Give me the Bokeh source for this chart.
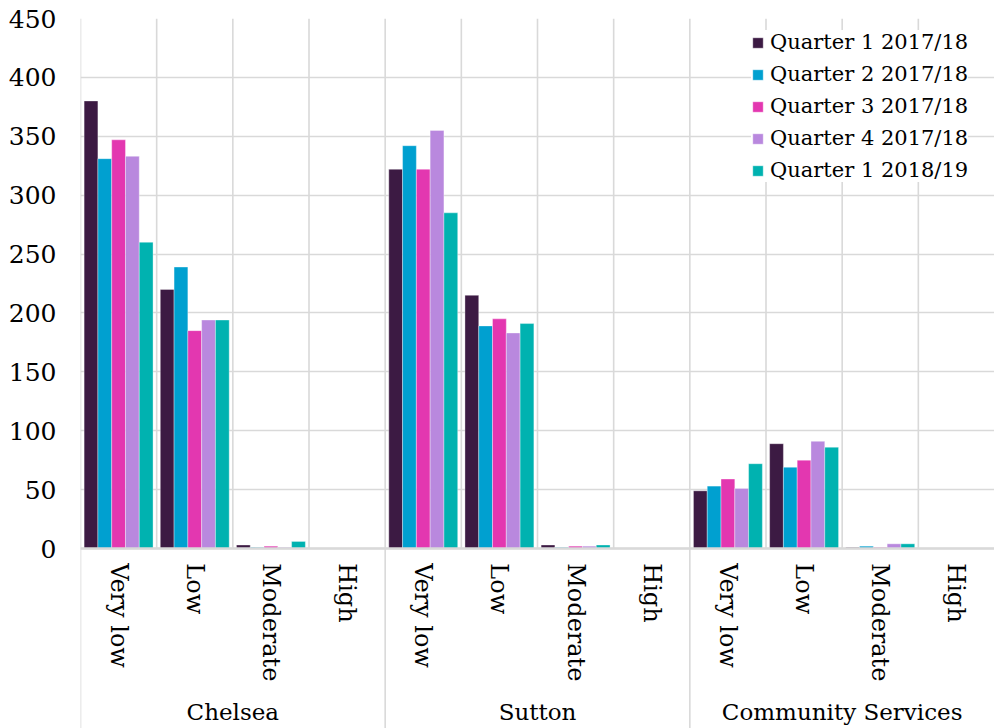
import math
from bokeh.plotting import figure
from bokeh.models import FactorRange, Range1d, FixedTicker, ColumnDataSource, Span
from bokeh.transform import dodge
from bokeh.core.properties import value
from bokeh.embed import file_html
from bokeh.resources import INLINE

# ---------------- data ----------------
groups = ["Chelsea", "Sutton", "Community Services"]
levels = ["Very low", "Low", "Moderate", "High"]
series = ["Quarter 1 2017/18", "Quarter 2 2017/18", "Quarter 3 2017/18",
          "Quarter 4 2017/18", "Quarter 1 2018/19"]
# values in order: Chelsea(VL, L, M, H), Sutton(...), Community Services(...)
q1_1718 = [380, 220, 3, 0, 322, 215, 3, 0, 49, 89, 1, 0]
q2_1718 = [331, 239, 1, 0, 342, 189, 1, 0, 53, 69, 2, 0]
q3_1718 = [347, 185, 2, 0, 322, 195, 2, 0, 59, 75, 1, 0]
q4_1718 = [333, 194, 1, 0, 355, 183, 2, 0, 51, 91, 4, 0]
q1_1819 = [260, 194, 6, 0, 285, 191, 3, 0, 72, 86, 4, 0]
y_ticks = [0, 50, 100, 150, 200, 250, 300, 350, 400, 450]

# ---------------- style ----------------
colors = ["#3c1a43", "#00a0d0", "#e337b0", "#b988de", "#00b2b0"]
FONT = "DejaVu Serif"
GRID = "#d9d9d9"
Y_MIN, Y_MAX = -152.8, 450
BAR_W = 0.181

factors = [(g, c) for g in groups for c in levels]
values_by_series = [q1_1718, q2_1718, q3_1718, q4_1718, q1_1819]

p = figure(width=994, height=728,
           x_range=FactorRange(*factors, factor_padding=0, group_padding=0,
                               subgroup_padding=0, range_padding=0),
           y_range=Range1d(Y_MIN, Y_MAX),
           output_backend="svg", toolbar_location=None, title=None,
           min_border_left=80, min_border_right=0, min_border_top=18,
           min_border_bottom=0)
p.outline_line_color = None
p.background_fill_color = "white"
p.border_fill_color = "white"

p.xaxis.visible = False
p.xgrid.grid_line_color = None
p.ygrid.grid_line_color = GRID
p.ygrid.grid_line_width = 1.6

yax = p.yaxis[0]
yax.ticker = FixedTicker(ticks=y_ticks)
yax.axis_line_color = None
yax.major_tick_line_color = None
yax.minor_tick_line_color = None
yax.major_tick_out = 0
yax.major_label_standoff = 24
yax.major_label_text_font = FONT
yax.major_label_text_font_size = "25px"
yax.major_label_text_color = "#000000"

# vertical category boundaries (plot area) and group separators (full height)
inner = ColumnDataSource(dict(x=[(g, c) for g in groups for c in levels[1:]],
                              y0=[0] * 9, y1=[Y_MAX] * 9))
p.segment(x0=dodge("x", -0.5, range=p.x_range), y0="y0",
          x1=dodge("x", -0.5, range=p.x_range), y1="y1",
          source=inner, line_color=GRID, line_width=1.6)
outer = ColumnDataSource(dict(x=[(g, levels[0]) for g in groups],
                              y0=[Y_MIN] * 3, y1=[Y_MAX] * 3))
p.segment(x0=dodge("x", -0.5, range=p.x_range), y0="y0",
          x1=dodge("x", -0.5, range=p.x_range), y1="y1",
          source=outer, line_color=GRID, line_width=1.6)

# bars
for i, (name, vals, col) in enumerate(zip(series, values_by_series, colors)):
    src = ColumnDataSource(dict(x=factors, top=vals))
    p.vbar(x=dodge("x", (i - 2) * BAR_W, range=p.x_range), top="top",
           width=BAR_W, source=src, fill_color=col, line_color="white",
           line_alpha=0.35, line_width=1, legend_label=name)

# zero line
p.add_layout(Span(location=0, dimension="width", line_color=GRID, line_width=2.6))

# category labels (rotated, reading downward)
cat_src = ColumnDataSource(dict(x=factors, text=[c for g in groups for c in levels]))
p.text(x="x", y=-12.5, text="text", source=cat_src, angle=-math.pi / 2,
       text_align="left", text_baseline="middle",
       text_font=value(FONT), text_font_size="24px", text_color="#000000")

# group labels
grp_src = ColumnDataSource(dict(x=groups, text=groups))
p.text(x="x", y=-138.4, text="text", source=grp_src,
       text_align="center", text_baseline="middle",
       text_font=value(FONT), text_font_size="23px", text_color="#000000")

# legend
lg = p.legend[0]
lg.location = (671, 546)
lg.margin = 0
lg.padding = 3
lg.spacing = 8
lg.label_height = 24
lg.glyph_width = 13
lg.glyph_height = 13
lg.label_standoff = 6
lg.label_text_font = FONT
lg.label_text_font_size = "21px"
lg.label_text_color = "#000000"
lg.border_line_color = None
lg.background_fill_color = "white"
lg.background_fill_alpha = 1.0

open("out.html", "w").write(file_html(p, INLINE))
